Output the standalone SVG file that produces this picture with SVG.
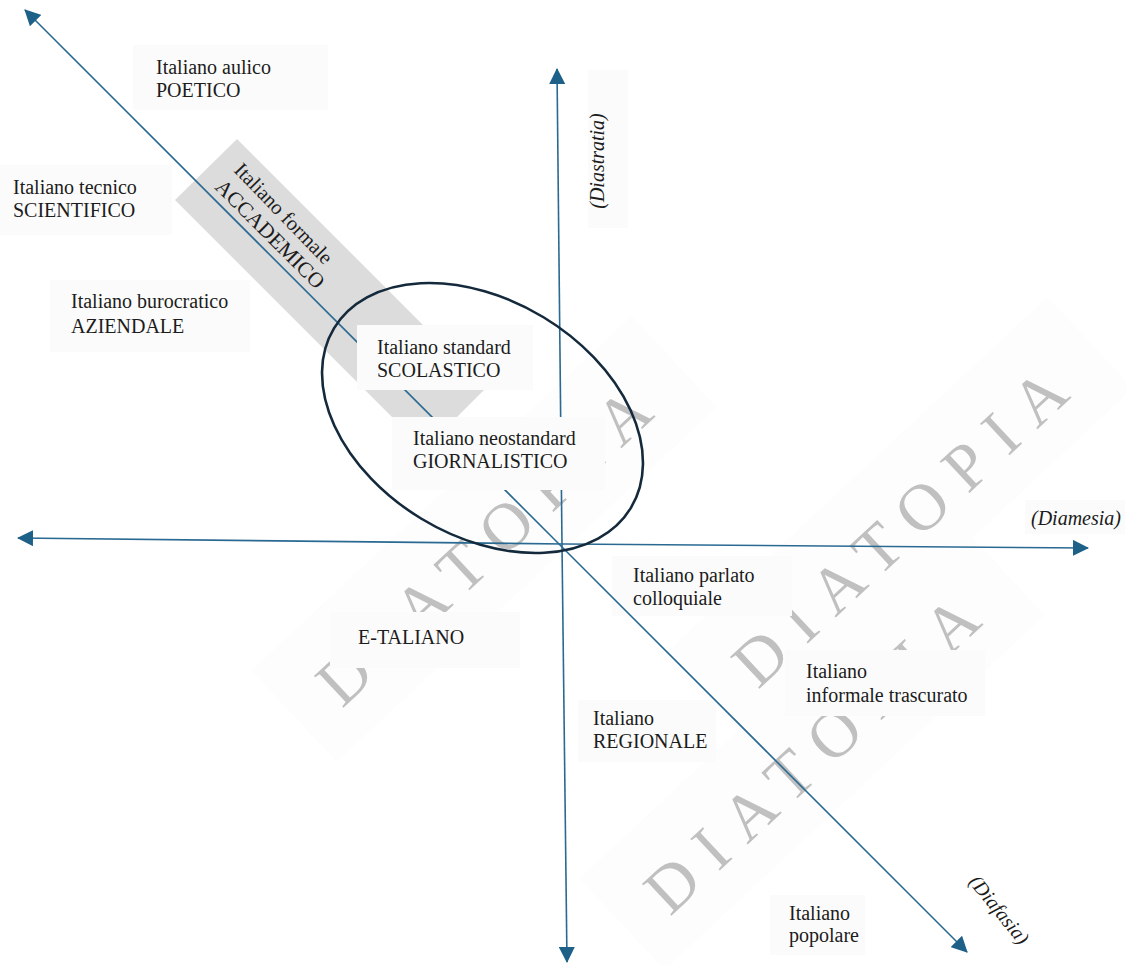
<svg xmlns="http://www.w3.org/2000/svg" width="1127" height="965" viewBox="0 0 1127 965">
  <style>
    text { font-family: "Liberation Serif", "DejaVu Serif", serif; }
    .lbl { font-size: 20px; fill: #1c1c1c; }
    .axis-name { font-size: 20px; font-style: italic; fill: #1c1c1c; }
    .wm { font-size: 66px; letter-spacing: 18px; fill: #c0c0c0; }
    .wm-band { fill: #fdfdfd; }
    .box { fill: #fbfbfb; }
    .axis { stroke: #2a6a92; stroke-width: 1.6; fill: none; }
  </style>
  <defs>
    <marker id="arrow" markerUnits="userSpaceOnUse" markerWidth="16" markerHeight="16" refX="15" refY="8" orient="auto">
      <path d="M0,0 L16,8 L0,16 Z" fill="#1d6088"/>
    </marker>
  </defs>

  <rect width="1127" height="965" fill="#ffffff"/>

  <!-- Faint watermark bands and DIATOPIA lettering -->
  <g id="watermarks" font-family="Liberation Serif, DejaVu Serif, serif">
    <rect class="wm-band" x="-40" y="-90" width="520" height="125" transform="translate(342,709) rotate(-43)"/>
    <rect class="wm-band" x="-40" y="-90" width="520" height="125" transform="translate(758,690) rotate(-43)"/>
    <rect class="wm-band" x="-40" y="-90" width="520" height="125" transform="translate(670,917) rotate(-43)"/>
    <text class="wm" transform="translate(342,709) rotate(-43)">DIATOPIA</text>
    <text class="wm" transform="translate(758,690) rotate(-43)">DIATOPIA</text>
    <text class="wm" transform="translate(670,917) rotate(-43)">DIATOPIA</text>
  </g>

  <!-- Grey band along the formal register -->
  <polygon id="formal-band" points="175,200 237,139 486,388 424.5,449.5" fill="#dcdcdc"/>

  <!-- Label backgrounds that sit below the axes -->
  <g id="label-boxes">
    <rect class="box" x="133" y="45" width="195" height="65"/>
    <rect class="box" x="0" y="165" width="172" height="70"/>
    <rect class="box" x="50" y="280" width="200" height="72"/>
    <rect class="box" x="612" y="556" width="180" height="60"/>
    <rect class="box" x="330" y="612" width="190" height="56"/>
    <rect class="box" x="785" y="650" width="200" height="66"/>
    <rect class="box" x="578" y="700" width="138" height="62"/>
    <rect class="box" x="770" y="895" width="95" height="60"/>
    <rect class="box" x="588" y="70" width="40" height="158"/>
    <rect class="box" x="1025" y="500" width="100" height="34"/>
  </g>

  <!-- Axes -->
  <g id="connectors">
    <line class="axis" x1="565" y1="544" x2="18" y2="538" marker-end="url(#arrow)"/>
    <line class="axis" x1="565" y1="544" x2="1088" y2="548" marker-end="url(#arrow)"/>
    <line class="axis" x1="562" y1="545" x2="557" y2="69" marker-end="url(#arrow)"/>
    <line class="axis" x1="562" y1="545" x2="567" y2="962" marker-end="url(#arrow)"/>
    <line class="axis" x1="565" y1="550" x2="25" y2="10" marker-end="url(#arrow)"/>
    <line class="axis" x1="565" y1="550" x2="967" y2="952" marker-end="url(#arrow)"/>
  </g>

  <g font-family="Liberation Serif, DejaVu Serif, serif">
    <!-- Axis names -->
    <g id="axis-names">
      <text class="axis-name" text-anchor="middle" transform="translate(604,161) rotate(-90)">(Diastratia)</text>
      <text class="axis-name" x="1031" y="525">(Diamesia)</text>
      <text class="axis-name" text-anchor="middle" transform="translate(994,914) rotate(51)">(Diafasia)</text>
    </g>

    <g id="aulico">
      <text class="lbl" x="156" y="74">Italiano aulico</text>
      <text class="lbl" x="156" y="97">POETICO</text>
    </g>
    <g id="tecnico">
      <text class="lbl" x="13" y="194">Italiano tecnico</text>
      <text class="lbl" x="13" y="217">SCIENTIFICO</text>
    </g>
    <g id="burocratico">
      <text class="lbl" x="71" y="308">Italiano burocratico</text>
      <text class="lbl" x="71" y="333">AZIENDALE</text>
    </g>
    <g id="formale">
      <text class="lbl" transform="translate(233,171) rotate(46)" style="font-size:20.5px">Italiano formale</text>
      <text class="lbl" transform="translate(214,188) rotate(45)" style="font-size:21.5px">ACCADEMICO</text>
    </g>
    <g id="standard">
      <rect class="box" x="357" y="325" width="176" height="65"/>
      <text class="lbl" x="377" y="354">Italiano standard</text>
      <text class="lbl" x="377" y="377">SCOLASTICO</text>
    </g>
    <g id="neostandard">
      <rect class="box" x="392" y="417" width="213" height="73"/>
      <text class="lbl" x="413" y="445">Italiano neostandard</text>
      <text class="lbl" x="413" y="468">GIORNALISTICO</text>
    </g>
    <g id="parlato">
      <text class="lbl" x="633" y="582">Italiano parlato</text>
      <text class="lbl" x="633" y="605">colloquiale</text>
    </g>
    <g id="etaliano">
      <text class="lbl" x="358" y="644">E-TALIANO</text>
    </g>
    <g id="informale">
      <text class="lbl" x="806" y="678">Italiano</text>
      <text class="lbl" x="806" y="702">informale trascurato</text>
    </g>
    <g id="regionale">
      <text class="lbl" x="593" y="725">Italiano</text>
      <text class="lbl" x="593" y="748">REGIONALE</text>
    </g>
    <g id="popolare">
      <text class="lbl" x="789" y="920">Italiano</text>
      <text class="lbl" x="789" y="942">popolare</text>
    </g>
  </g>

  <!-- Norm region -->
  <ellipse id="norm-ellipse" cx="482.5" cy="418" rx="173.5" ry="117.8" transform="rotate(31.2 482.5 418)" fill="none" stroke="#142a3c" stroke-width="2.6"/>
</svg>
